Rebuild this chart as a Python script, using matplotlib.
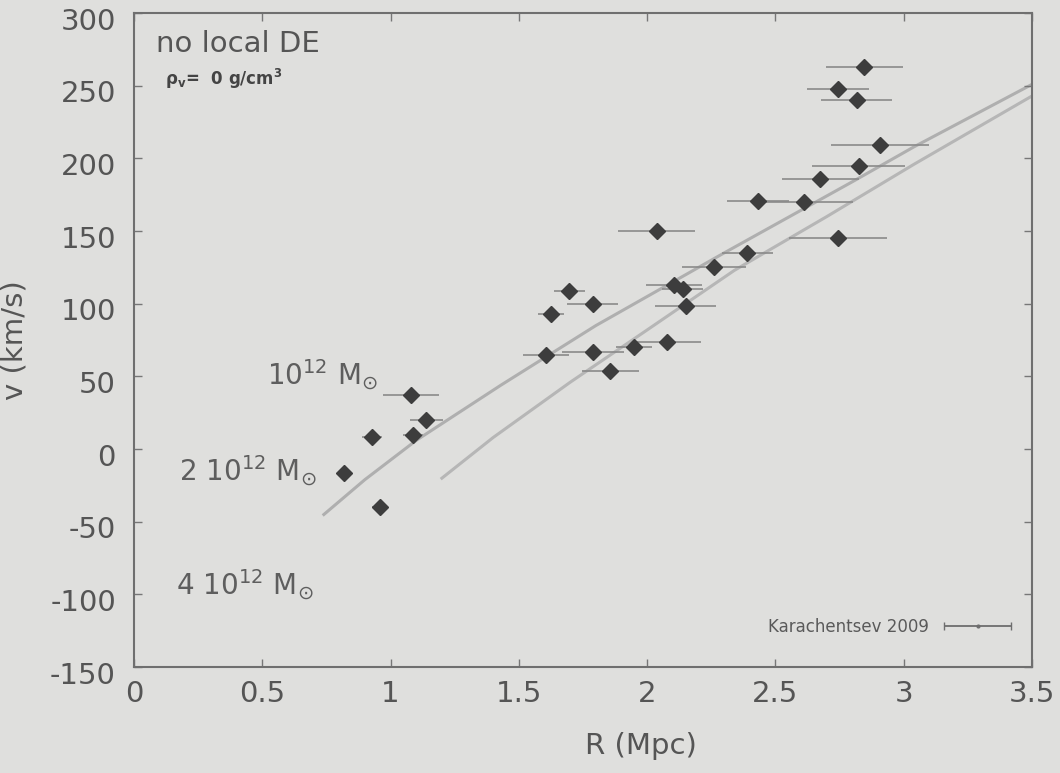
import numpy as np
import matplotlib
matplotlib.use("Agg")
import matplotlib.pyplot as plt
from matplotlib.transforms import ScaledTranslation
from matplotlib.container import ErrorbarContainer
from matplotlib.legend_handler import HandlerErrorbar

# ---- data ----
R_obs = [2.846, 2.744, 2.816, 2.907, 2.824, 2.675, 2.431, 2.611, 2.037, 2.743,
         2.391, 2.259, 1.697, 2.105, 2.138, 1.788, 1.626, 2.150, 1.607, 1.788,
         1.948, 2.079, 1.857, 1.079, 1.140, 0.928, 1.087, 0.817, 0.957]
v_obs = [263, 248, 240, 209, 195, 186, 171, 170, 150, 145,
         135, 125, 109, 113, 110, 100, 93, 98.5, 65, 67,
         70, 74, 54, 37, 20, 8, 10, -16.5, -40]
R_err = [0.15, 0.12, 0.14, 0.19, 0.18, 0.15, 0.12, 0.19, 0.15, 0.19,
         0.10, 0.125, 0.06, 0.11, 0.08, 0.10, 0.05, 0.12, 0.09, 0.12,
         0.07, 0.13, 0.11, 0.11, 0.065, 0.04, 0.04, 0.0, 0.03]

R_upper = [0.74, 0.9, 1.1, 1.43, 1.8, 2.3, 2.8, 3.04, 3.5]
v_upper = [-45, -21, 6, 44, 85, 135, 184, 208, 251]
R_lower = [1.2, 1.4, 1.7, 2.0, 2.34, 2.7, 3.04, 3.5]
v_lower = [-20, 8, 46, 82, 123, 160, 196, 243]

mass_labels = [r"$10^{12}\ \mathrm{M}_{\odot}$",
               r"$2\ 10^{12}\ \mathrm{M}_{\odot}$",
               r"$4\ 10^{12}\ \mathrm{M}_{\odot}$"]
mass_label_R = [0.95, 0.71, 0.70]
mass_label_v = [44, -22, -100]

x_ticks = [0, 0.5, 1, 1.5, 2, 2.5, 3, 3.5]
x_tick_labels = ["0", "0.5", "1", "1.5", "2", "2.5", "3", "3.5"]
y_ticks = [-150, -100, -50, 0, 50, 100, 150, 200, 250, 300]

# ---- style ----
plt.rcParams['font.family'] = ['DejaVu Sans']
plt.rcParams['mathtext.fontset'] = 'dejavusans'
plt.rcParams['axes.unicode_minus'] = False
bg = '#dfdfdd'
txt = '#555555'

fig = plt.figure(figsize=(10.6, 7.73), dpi=100, facecolor=bg)
ax = fig.add_axes([0.1264, 0.137, 0.8472, 0.846], facecolor=bg)

ax.plot(R_upper, v_upper, color='#afafaf', lw=2.2, zorder=1)
ax.plot(R_lower, v_lower, color='#b6b6b6', lw=2.2, zorder=1)

ax.errorbar(R_obs, v_obs, xerr=R_err, fmt='none', ecolor='#8a8a8a',
            elinewidth=1.2, capsize=0, zorder=2)
ax.plot(R_obs, v_obs, linestyle='none', marker='D', markersize=8,
        color='#3d3d3d', zorder=3)

# legend proxy (error bar with small dot)
ax.errorbar([np.nan], [np.nan], xerr=[0.1], fmt='.', color='#6e6e6e',
            markersize=4, elinewidth=1.3, capsize=3, label='Karachentsev 2009')

for lab, xr, yv in zip(mass_labels, mass_label_R, mass_label_v):
    ax.text(xr, yv, lab, ha='right', va='baseline', fontsize=20,
            color='#5e5e5e')

ax.text(0.024, 0.94, "no local DE", transform=ax.transAxes, fontsize=21,
        color='#555555', va='baseline', ha='left')
ax.text(0.035, 0.89, r"ρ$_\mathregular{v}$=  0 g/cm$^\mathregular{3}$",
        transform=ax.transAxes, fontsize=12, fontweight='bold',
        color='#444444', va='baseline', ha='left')

leg = ax.legend(loc='lower right', bbox_to_anchor=(0.995, 0.025), frameon=False,
                markerfirst=False, handlelength=4.2, fontsize=12,
                labelcolor='#5a5a5a',
                handler_map={ErrorbarContainer: HandlerErrorbar(xerr_size=2.0)})

ax.set_xlim(0, 3.5)
ax.set_ylim(-150, 300)
ax.set_xticks(x_ticks)
ax.set_xticklabels(x_tick_labels)
ax.set_yticks(y_ticks)
ax.tick_params(direction='in', length=6, width=1, color='#777777',
               labelsize=21, labelcolor=txt, top=True, right=True)
ax.tick_params(axis='y', pad=13)
ax.tick_params(axis='x', pad=9)
off = ScaledTranslation(0, -4 / 72, fig.dpi_scale_trans)
for lab in ax.get_yticklabels():
    lab.set_transform(lab.get_transform() + off)
for s in ax.spines.values():
    s.set_color('#6f6f6f')
    s.set_linewidth(1.5)

ax.set_xlabel("R (Mpc)", fontsize=21, color=txt)
ax.set_ylabel("v (km/s)", fontsize=21, color=txt)
ax.xaxis.set_label_coords(0.565, -0.1)
ax.yaxis.set_label_coords(-0.117, 0.5)

fig.savefig("out.png", dpi=100, facecolor=bg)
